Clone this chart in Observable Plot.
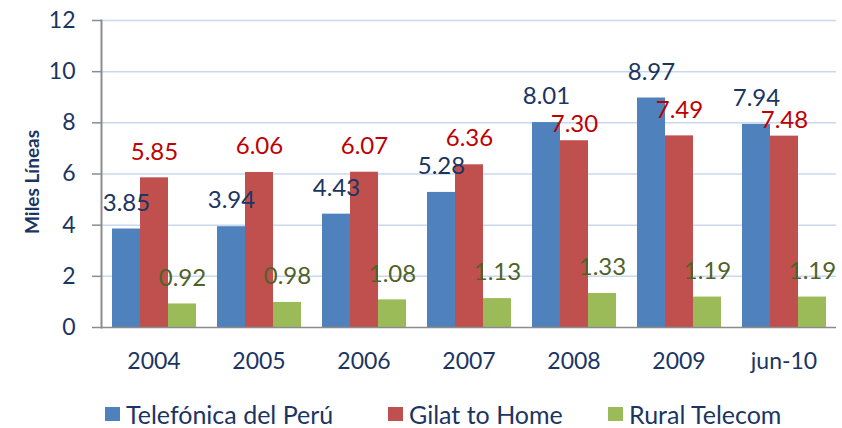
<!DOCTYPE html>
<html>
<head>
<meta charset="utf-8">
<script src="https://cdn.jsdelivr.net/npm/d3@7"></script>
<script src="https://cdn.jsdelivr.net/npm/@observablehq/plot@0.6"></script>
<style>
  html, body { margin: 0; padding: 0; background: #ffffff; }
  #chart { width: 842px; height: 395px; }
  #legend { position: relative; width: 842px; height: 33px; font-family: Lato, sans-serif; }
  .item { position: absolute; top: 4px; display: flex; align-items: center; font-size: 25px; line-height: 30px; color: #1b3563; white-space: nowrap; }
  .sw { width: 15px; height: 14px; margin-right: 6px; }
</style>
</head>
<body>
<div id="chart"></div>
<div id="legend"></div>
<script>
const categories = ["2004", "2005", "2006", "2007", "2008", "2009", "jun-10"];
const series = ["Telefónica del Perú", "Gilat to Home", "Rural Telecom"];
const telefonica = [3.85, 3.94, 4.43, 5.28, 8.01, 8.97, 7.94];
const gilat = [5.85, 6.06, 6.07, 6.36, 7.30, 7.49, 7.48];
const rural = [0.92, 0.98, 1.08, 1.13, 1.33, 1.19, 1.19];
const yTicks = [0, 2, 4, 6, 8, 10, 12];
const yTitle = "Miles Líneas";

const barColors = ["#4f81bd", "#c0504d", "#9bbb59"];
const labelColors = ["#1b3563", "#c00000", "#4f6228"];
const navy = "#1b3563";
const axisGray = "#8c8c8c";
const gridColor = "#c8d8ee";

const values = [telefonica, gilat, rural];
const rows = categories.flatMap((c, i) =>
  series.map((s, k) => ({
    cat: c, series: s, value: values[k][i],
    // a red label sitting just under a slightly taller blue bar is nudged down, as in the source
    crowded: k === 1 && telefonica[i] > gilat[i] && telefonica[i] - gilat[i] < 1
  }))
);

const labelMark = (data, k, dy) => Plot.text(data, {
  fx: "cat", x: "series", y: "value",
  text: d => d.value.toFixed(2),
  dy, fill: labelColors[k], fontSize: 24
});

const chart = Plot.plot({
  width: 842,
  height: 395,
  marginLeft: 99,
  marginRight: 4,
  marginTop: 20,
  marginBottom: 68,
  style: {fontFamily: "Lato, sans-serif", background: "white"},
  fx: {domain: categories, padding: 0},
  x: {domain: series, paddingInner: 0, paddingOuter: 0.375, axis: null},
  y: {domain: [0, 12]},
  color: {domain: series, range: barColors},
  marks: [
    Plot.gridY(yTicks.slice(1), {stroke: gridColor, strokeOpacity: 1, strokeWidth: 1.5}),
    Plot.barY(rows, {fx: "cat", x: "series", y: "value", fill: "series"}),
    ...series.map((s, k) => labelMark(rows.filter(d => d.series === s && !d.crowded), k, -26)),
    labelMark(rows.filter(d => d.crowded), 1, -16),
    Plot.ruleY([0], {stroke: axisGray, strokeWidth: 1.5}),
    Plot.frame({anchor: "left", facetAnchor: "left", stroke: axisGray, strokeWidth: 2}),
    Plot.axisY({ticks: yTicks, tickSize: 9, tickPadding: 17, stroke: axisGray, strokeWidth: 1.5,
      color: navy, fontSize: 23, label: null, tickFormat: d => String(d)}),
    Plot.axisFx({anchor: "bottom", tickSize: 0, tickPadding: 25, fontSize: 23, color: navy, label: null}),
    Plot.text([yTitle], {text: d => d, frameAnchor: "left", facetAnchor: "left", dx: -69, dy: 60,
      rotate: -90, fontWeight: "bold", fontSize: 19, fill: navy})
  ]
});
document.getElementById("chart").appendChild(chart);

const legend = document.getElementById("legend");
const lefts = [105, 388, 608];
series.forEach((s, k) => {
  const item = document.createElement("div");
  item.className = "item";
  item.style.left = lefts[k] + "px";
  const sw = document.createElement("span");
  sw.className = "sw";
  sw.style.background = barColors[k];
  const t = document.createElement("span");
  t.textContent = s;
  item.appendChild(sw);
  item.appendChild(t);
  legend.appendChild(item);
});
</script>
</body>
</html>
